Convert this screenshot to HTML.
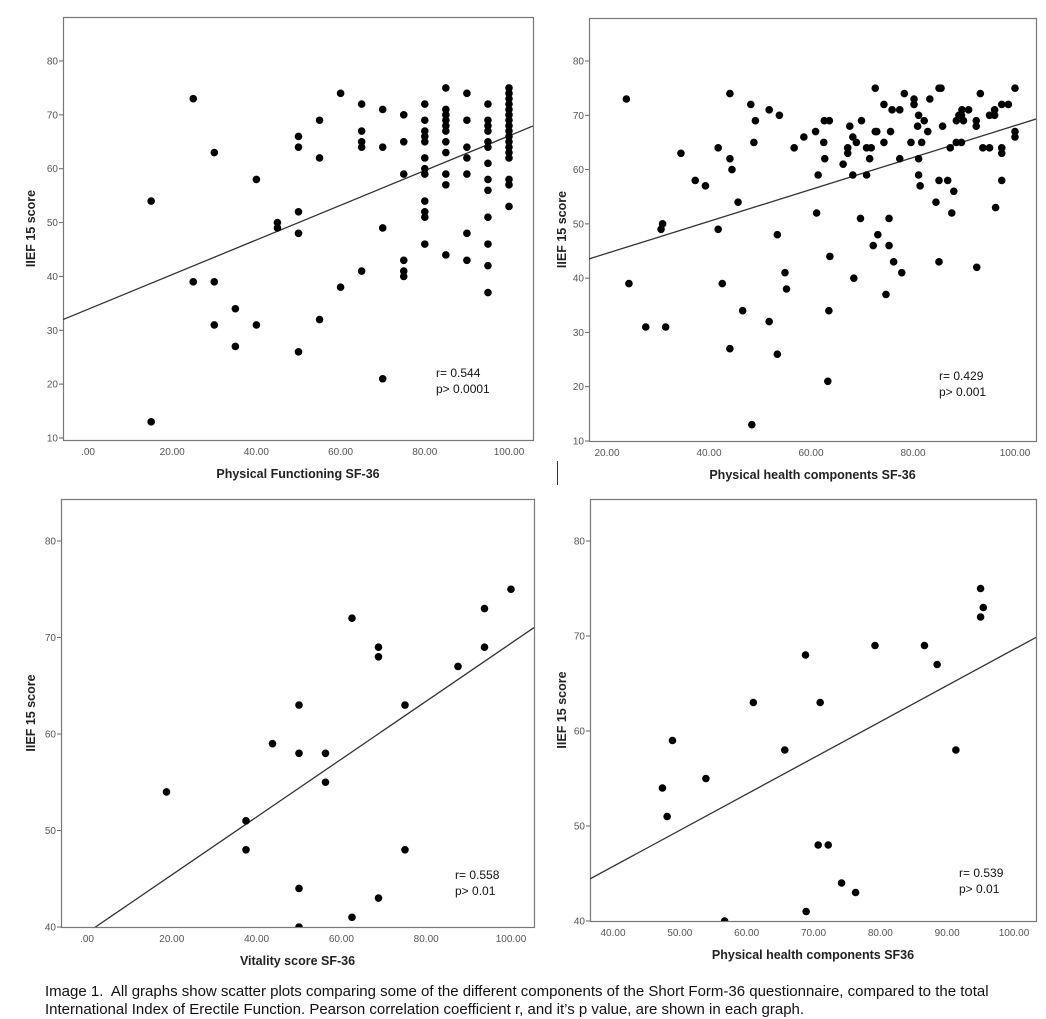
<!DOCTYPE html>
<html><head><meta charset="utf-8">
<style>
html,body{margin:0;padding:0;background:#fff;}
body{width:1046px;height:1019px;overflow:hidden;position:relative;font-family:"Liberation Sans",sans-serif;}
#cap{position:absolute;left:45px;top:983px;font-size:15px;line-height:18px;color:#111;white-space:nowrap;}
</style></head>
<body>
<svg id="chart" width="1046" height="980" style="position:absolute;left:0;top:0" xmlns="http://www.w3.org/2000/svg"></svg>
<div id="cap">Image 1.&nbsp; All graphs show scatter plots comparing some of the different components of the Short Form-36 questionnaire, compared to the total<br>International Index of Erectile Function. Pearson correlation coefficient r, and it’s p value, are shown in each graph.</div>
<script>
// Panel 1: Physical Functioning SF-36
const p1X=[15,15,25,25,30,30,30,35,35,40,40,45,45,50,50,50,50,50,55,55,55,60,60,65,65,65,65,65,70,70,70,70,75,75,75,75,75,75,80,80,80,80,80,80,80,80,80,80,80,80,85,85,85,85,85,85,85,85,85,85,85,90,90,90,90,90,90,90,95,95,95,95,95,95,95,95,95,95,95,95,95,100,100,100,100,100,100,100,100,100,100,100,100,100,100,100,100,100];
const p1Y=[54,13,73,39,63,39,31,34,27,58,31,50,49,66,64,52,48,26,69,62,32,74,38,72,67,65,64,41,71,64,49,21,70,65,59,43,41,40,72,69,67,66,65,62,60,59,54,52,51,46,75,71,70,69,68,67,65,63,59,57,44,74,69,64,62,59,48,43,72,69,68,67,65,64,61,58,56,51,46,42,37,75,74,73,72,71,70,69,68,67,66,65,64,63,62,58,57,53];
// Panel 2: Physical health components SF-36
const p2X=[23.8,24.3,27.6,31.5,30.6,30.9,34.5,37.3,39.3,41.8,41.8,42.6,44.1,44.1,44.5,44.1,45.7,46.6,48.2,49.1,48.8,48.4,51.8,51.8,53.8,53.4,53.4,54.9,55.2,56.7,58.6,60.9,61.4,61.1,62.5,62.7,62.6,63.6,63.7,63.5,63.3,66.3,67.2,67.2,67.6,68.2,68.2,68.9,68.4,69.9,69.7,70.9,70.9,71.8,71.5,72.2,72.6,72.6,72.9,73.1,74.3,74.3,74.7,75.3,75.3,75.6,75.9,76.2,77.4,77.4,77.8,78.3,79.6,80.2,80.2,80.9,81.1,81.1,81.1,81.4,81.7,82.2,82.9,83.3,84.5,85.1,85.5,85.1,85.1,85.8,86.8,87.3,87.6,88.0,88.5,88.5,89.0,89.5,89.5,89.6,89.9,90.9,92.4,92.4,92.5,93.2,93.7,95.0,95.0,96.0,96.0,96.2,97.4,98.7,97.4,97.4,97.4,100,100,100];
const p2Y=[73,39,31,31,49,50,63,58,57,64,49,39,74,62,60,27,54,34,72,69,65,13,71,32,70,48,26,41,38,64,66,67,59,52,65,62,69,69,44,34,21,61,64,63,68,66,59,65,40,69,51,64,59,64,62,46,75,67,67,48,72,65,37,51,46,67,71,43,71,62,41,74,65,72,73,68,70,62,59,57,65,69,67,73,54,75,75,58,43,68,58,64,52,56,69,65,70,70,65,71,69,71,69,68,42,74,64,70,64,70,71,53,72,72,64,63,58,75,67,66];
// Panel 3: Vitality score SF-36
const p3X=[18.75,37.5,37.5,43.75,50,50,50,50,56.25,56.25,62.5,62.5,68.75,68.75,68.75,75,75,87.5,93.75,93.75,100];
const p3Y=[54,51,48,59,63,58,44,40,58,55,72,41,69,68,43,63,48,67,73,69,75];
// Panel 4: Physical health components SF36
const p4X=[47.4,48.1,48.9,53.9,56.7,61.0,65.7,68.8,68.9,70.7,71.0,72.2,74.2,76.3,79.2,86.6,88.5,91.3,95.0,95.4,95.0];
const p4Y=[54,51,59,55,40,63,58,68,41,48,63,48,44,43,69,69,67,58,75,73,72];
// Fit lines: intercept, slope
const fitIntercepts=[33.9,38.7,39.4,30.5];
const fitSlopes=[0.322,0.294,0.30,0.381];
const xTicks1=[0,20,40,60,80,100];
const xTicks2=[20,40,60,80,100];
const xTicks3=[0,20,40,60,80,100];
const xTicks4=[40,50,60,70,80,90,100];
const yTicksTop=[10,20,30,40,50,60,70,80];
const yTicksBottom=[40,50,60,70,80];
const xTitles=["Physical Functioning SF-36","Physical health components SF-36","Vitality score SF-36","Physical health components SF36"];
const rLabels=["r= 0.544","r= 0.429","r= 0.558","r= 0.539"];
const pLabels=["p> 0.0001","p> 0.001","p> 0.01","p> 0.01"];

const NS="http://www.w3.org/2000/svg";
const svg=document.getElementById('chart');
function mk(tag,attrs,parent){const e=document.createElementNS(NS,tag);for(const k in attrs)e.setAttribute(k,attrs[k]);(parent||svg).appendChild(e);return e;}

const panels=[
 {xs:p1X,ys:p1Y,L:63,T:17,R:533,B:440,xa:[0,88],xb:[100,509],ya:[80,61],yb:[10,438],xt:xTicks1,yt:yTicksTop,yTitleX:35,rx:436,ry:377},
 {xs:p2X,ys:p2Y,L:589,T:18,R:1036,B:441,xa:[20,607],xb:[100,1015],ya:[80,61],yb:[10,441],xt:xTicks2,yt:yTicksTop,yTitleX:566,rx:939,ry:380},
 {xs:p3X,ys:p3Y,L:61,T:499,R:534,B:927,xa:[0,87],xb:[100,511],ya:[80,541],yb:[40,927],xt:xTicks3,yt:yTicksBottom,yTitleX:35,rx:455,ry:879},
 {xs:p4X,ys:p4Y,L:590,T:499,R:1036,B:921,xa:[40,613],xb:[100,1014],ya:[80,541],yb:[40,921],xt:xTicks4,yt:yTicksBottom,yTitleX:566,rx:959,ry:877}
];

panels.forEach((p,i)=>{
  const sx=v=>p.xa[1]+(v-p.xa[0])*(p.xb[1]-p.xa[1])/(p.xb[0]-p.xa[0]);
  const sy=v=>p.ya[1]+(v-p.ya[0])*(p.yb[1]-p.ya[1])/(p.yb[0]-p.ya[0]);
  const ix=v=>p.xa[0]+(v-p.xa[1])*(p.xb[0]-p.xa[0])/(p.xb[1]-p.xa[1]);
  const g=mk('g',{});
  
  
  const clip=mk('clipPath',{id:'clip'+i},g);
  mk('rect',{x:p.L,y:p.T,width:p.R-p.L,height:p.B-p.T},clip);
  const box=mk('rect',{x:p.L+0.5,y:p.T+0.5,width:p.R-p.L,height:p.B-p.T,fill:'none',stroke:'#777','stroke-width':1.2},g);
  
  
  p.yt.forEach(v=>{
    const y=sy(v);
    mk('line',{x1:p.L-4,x2:p.L,y1:y,y2:y,stroke:'#666','stroke-width':1},g);
    const t=mk('text',{x:p.L-5,y:y+3.5,'text-anchor':'end','font-size':10,fill:'#555','font-family':'"Liberation Sans Narrow","Liberation Sans",sans-serif'},g);
    t.textContent=String(v);
    
    
  });
  p.xt.forEach(v=>{
    const x=sx(v);
    const t=mk('text',{x:x,y:p.B+15,'text-anchor':'middle','font-size':10,fill:'#555','font-family':'"Liberation Sans Narrow","Liberation Sans",sans-serif'},g);
    t.textContent=v===0?'.00':v.toFixed(2);
    
    
  });
  const xt=mk('text',{x:(p.L+p.R)/2,y:p.B+38,'text-anchor':'middle','font-size':12.5,'font-weight':'bold',fill:'#222'},g);
  xt.textContent=xTitles[i];
  
  
  const cy=(p.T+p.B)/2;
  const yt=mk('text',{x:p.yTitleX,y:cy,'text-anchor':'middle','font-size':12.5,'font-weight':'bold',fill:'#222',transform:`rotate(-90 ${p.yTitleX} ${cy})`},g);
  yt.textContent='IIEF 15 score';
  
  
  const cg=mk('g',{'clip-path':`url(#clip${i})`},g);
  const x0=ix(p.L),x1=ix(p.R);
  const ln=mk('line',{x1:p.L,y1:sy(fitIntercepts[i]+fitSlopes[i]*x0),x2:p.R,y2:sy(fitIntercepts[i]+fitSlopes[i]*x1),stroke:'#333','stroke-width':1.3},cg);
  
  
  p.xs.forEach((xv,j)=>{
    const c=mk('circle',{cx:sx(xv),cy:sy(p.ys[j]),r:3.8,fill:'#000'},cg);
    
    
  });
  const rt=mk('text',{x:p.rx,y:p.ry,'font-size':12,fill:'#111'},g);
  rt.textContent=rLabels[i];
  
  
  const pt=mk('text',{x:p.rx,y:p.ry+16,'font-size':12,fill:'#111'},g);
  pt.textContent=pLabels[i];
  
  
});
const sep=mk('line',{x1:557.5,x2:557.5,y1:461,y2:485,stroke:'#333','stroke-width':1});


</script>
</body></html>
